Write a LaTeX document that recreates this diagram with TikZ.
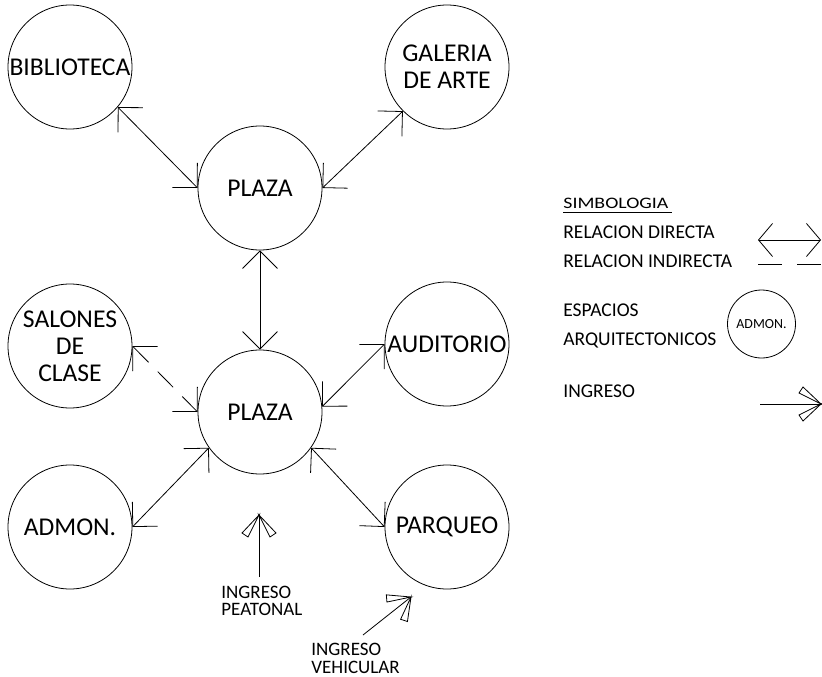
\documentclass[tikz,border=0pt]{standalone}
\usepackage{fontspec}
\setmainfont{Carlito}
\usepackage{graphicx}
\usetikzlibrary{arrows.meta, shapes.geometric}
\tikzset{
    espacio/.style={circle, draw, minimum size=124pt, inner sep=0pt, align=center, font=\fontsize{25.6}{27}\selectfont},
    directa/.style={{Straight Barb[length=17.5pt, width=35pt]}-{Straight Barb[length=17.5pt, width=35pt]}},
    indirecta/.style={directa, dash pattern=on 22pt off 13pt},
    leyenda/.style={anchor=west, inner sep=0pt, align=left, font=\fontsize{19.5}{28.5}\selectfont},
    ingresotip/.pic={
        \draw (0,0) -- (-18,17) -- (-22,11) -- cycle;
        \draw (0,0) -- (-18,-17) -- (-22,-11) -- cycle;
    }
}

\begin{document}
\begin{tikzpicture}[x=1pt, y=-1pt, line width=0.8pt,
  textoingreso/.style={anchor=west, inner sep=0pt, align=left, font=\fontsize{19}{17.5}\selectfont},
  muestra/.style={circle, draw, minimum size=68pt, inner sep=0pt, font=\fontsize{13.9}{14}\selectfont}]
  \useasboundingbox (0,0) rectangle (822,677);
  % espacios
  \node[espacio] (biblioteca) at (70,67) {BIBLIOTECA};
  \node[espacio] (galeria) at (447,67) {GALERIA\\DE ARTE};
  \node[espacio] (plazaA) at (260,188) {PLAZA};
  \node[espacio] (salones) at (70,346) {SALONES\\DE\\CLASE};
  \node[espacio] (auditorio) at (447,344) {AUDITORIO};
  \node[espacio] (plazaB) at (260,412) {PLAZA};
  \node[espacio] (admon) at (70,527) {ADMON.};
  \node[espacio] (parqueo) at (447,527) {PARQUEO};
  % relaciones
  \draw[directa] (biblioteca.-40) -- (plazaA.west);
  \draw[directa] (galeria.225) -- (plazaA.east);
  \draw[directa] (plazaA.south) -- (plazaB.north);
  \draw[indirecta] (salones.east) -- (plazaB.west);
  \draw[directa] (auditorio.west) -- (plazaB.5);
  \draw[directa] (admon.east) -- (plazaB.215);
  \draw[directa] (parqueo.west) -- (plazaB.-35);
  % ingresos
  \coordinate (peatonalA) at (259,577);
  \coordinate (peatonalB) at (259,515);
  \draw (peatonalA) -- (peatonalB);
  \pic[rotate=90] at (peatonalB) {ingresotip};
  \node[textoingreso] (peatonal) at (221,601) {INGRESO\\PEATONAL};
  \coordinate (vehicularA) at (363,635);
  \coordinate (vehicularB) at (411,597);
  \draw (vehicularA) -- (vehicularB);
  \pic[rotate=38.4] at (vehicularB) {ingresotip};
  \node[textoingreso] (vehicular) at (311,658.5) {INGRESO\\VEHICULAR};
  % simbologia
  \node[leyenda, font=\fontsize{16}{16}\selectfont] (simbologia) at (563,203.5) {\scalebox{1.24}[1]{SIMBOLOGIA}};
  \draw ([yshift=-3pt]simbologia.south west) -- ([xshift=3pt, yshift=-3pt]simbologia.south east);
  \node[leyenda] (relaciones) at (563,246.5) {RELACION DIRECTA\\RELACION INDIRECTA};
  \coordinate (directaA) at (758,240);
  \coordinate (directaB) at (821,240);
  \draw[{Straight Barb[length=14pt, width=33pt]}-{Straight Barb[length=14pt, width=33pt]}] (directaA) -- (directaB);
  \coordinate (indirectaA) at (758,264);
  \coordinate (indirectaB) at (821,264);
  \draw[dash pattern=on 24pt off 15pt] (indirectaA) -- (indirectaB);
  \node[leyenda] (espacios) at (563,326) {ESPACIOS\\ARQUITECTONICOS};
  \node[muestra] (ejemplo) at (761.5,324) {ADMON.};
  \node[leyenda] (ingreso) at (563,391) {INGRESO};
  \coordinate (ingresoA) at (760,404);
  \coordinate (ingresoB) at (821,404);
  \draw (ingresoA) -- (ingresoB);
  \pic at (ingresoB) {ingresotip};
\end{tikzpicture}
\end{document}
